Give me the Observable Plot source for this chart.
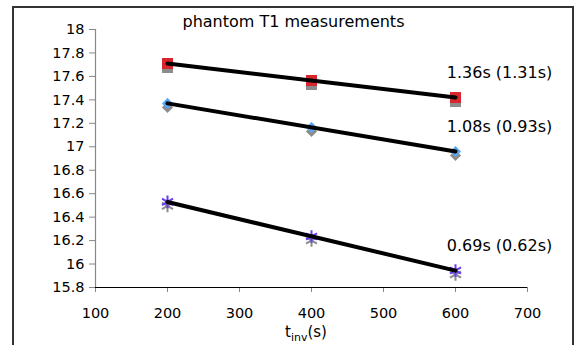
<!DOCTYPE html>
<html>
<head>
<meta charset="utf-8">
<script src="https://cdn.jsdelivr.net/npm/d3@7"></script>
<script src="https://cdn.jsdelivr.net/npm/@observablehq/plot@0.6"></script>
<style>
  html, body { margin: 0; padding: 0; background: #fff; }
  #wrap { position: relative; width: 579px; height: 345px; overflow: hidden; font-family: "DejaVu Sans", Verdana, sans-serif; }
  #border { position: absolute; left: 12px; top: 6px; width: 558px; height: 360px; border: 2px solid #333; pointer-events: none; }
  #xlabel { position: absolute; left: 285px; top: 323px; font-size: 15px; color: #000; white-space: nowrap; }
  #xlabel sub { font-size: 11px; vertical-align: -4px; line-height: 0; }
  svg { position: absolute; left: 0; top: 0; }
</style>
</head>
<body>
<div id="wrap"><div id="border"></div><div id="xlabel">t<sub>inv</sub>(s)</div></div>
<script>
const title = "phantom T1 measurements";
const tinv = [200, 400, 600];
const squares = [17.71, 17.565, 17.42];
const diamonds = [17.37, 17.165, 16.96];
const stars = [16.53, 16.235, 15.945];
const t1Labels = ["1.36s (1.31s)", "1.08s (0.93s)", "0.69s (0.62s)"];
const xTicks = [100, 200, 300, 400, 500, 600, 700];
const yTicks = [15.8, 16, 16.2, 16.4, 16.6, 16.8, 17, 17.2, 17.4, 17.6, 17.8, 18];

const toRows = ys => tinv.map((x, i) => ({x, y: ys[i]}));
const sq = toRows(squares), di = toRows(diamonds), st = toRows(stars);
const lastPts = [squares, diamonds, stars].map((s, i) => ({x: tinv[2], y: s[2], label: t1Labels[i]}));
const shadow = "#8c8c8c";

const chart = Plot.plot({
  width: 579, height: 345,
  marginLeft: 95, marginRight: 52, marginTop: 29, marginBottom: 58,
  style: {fontFamily: "DejaVu Sans, Verdana, sans-serif", background: "transparent", overflow: "visible"},
  x: {domain: [100, 700]},
  y: {domain: [15.8, 18]},
  marks: [
    Plot.ruleX([100], {stroke: "#888", strokeWidth: 1.2}),
    Plot.axisY({ticks: yTicks, tickSize: 6, tickPadding: 5, stroke: "#888", fill: "#000", fontSize: 14.5, label: null, tickFormat: d => String(+d.toFixed(1))}),
    Plot.axisX({ticks: xTicks, tickSize: 5, tickPadding: 15, stroke: "#888", fill: "#000", fontSize: 14.5, label: null}),
    Plot.ruleY([15.8], {stroke: "#000", strokeWidth: 1.2}),
    // shadows
    Plot.dot(sq, {x: "x", y: "y", symbol: "square", r: 6.2, fill: shadow, dy: 4}),
    Plot.dot(di, {x: "x", y: "y", symbol: "diamond2", r: 5, fill: shadow, dy: 4}),
    Plot.dot(st, {x: "x", y: "y", symbol: "asterisk", r: 6, stroke: shadow, strokeWidth: 2, dy: 4}),
    // markers
    Plot.dot(sq, {x: "x", y: "y", symbol: "square", r: 6.2, fill: "#d9262e"}),
    Plot.dot(di, {x: "x", y: "y", symbol: "diamond2", r: 5, fill: "#5aa7f5"}),
    Plot.dot(st, {x: "x", y: "y", symbol: "asterisk", r: 6, stroke: "#6a3cf2", strokeWidth: 2}),
    // fitted lines
    Plot.linearRegressionY(sq, {x: "x", y: "y", stroke: "#000", strokeWidth: 4, ci: 0}),
    Plot.linearRegressionY(di, {x: "x", y: "y", stroke: "#000", strokeWidth: 4, ci: 0}),
    Plot.linearRegressionY(st, {x: "x", y: "y", stroke: "#000", strokeWidth: 4, ci: 0}),
    // annotations
    Plot.text(lastPts, {x: "x", y: "y", text: "label", dx: 44, dy: -25, fontSize: 16, fill: "#000"}),
    Plot.text([title], {frameAnchor: "top-left", textAnchor: "start", lineAnchor: "middle", dx: 87, dy: -8, fontSize: 16, fill: "#000"})
  ]
});
document.getElementById("wrap").prepend(chart);
</script>
</body>
</html>
